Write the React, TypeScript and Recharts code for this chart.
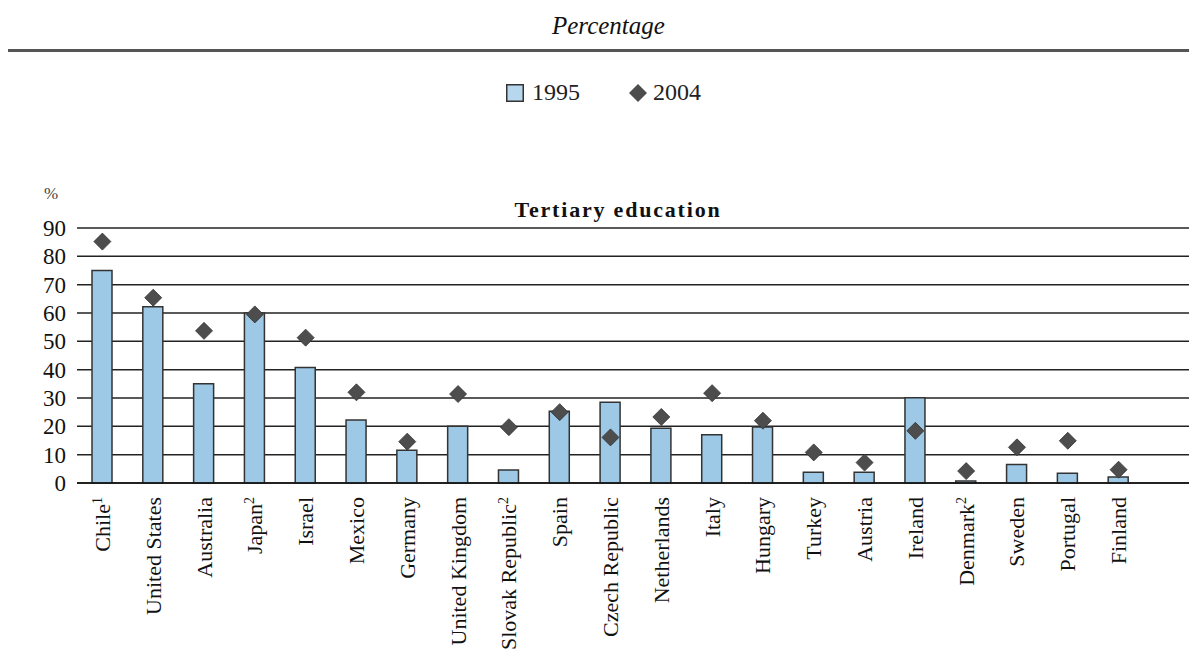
import React from "react";
import { Bar, CartesianGrid, ComposedChart, Line, XAxis, YAxis } from "recharts";

const countries = [
  "Chile", "United States", "Australia", "Japan", "Israel", "Mexico", "Germany",
  "United Kingdom", "Slovak Republic", "Spain", "Czech Republic", "Netherlands",
  "Italy", "Hungary", "Turkey", "Austria", "Ireland", "Denmark", "Sweden",
  "Portugal", "Finland",
];
const footnotes = ["1", "", "", "2", "", "", "", "", "2", "", "", "", "", "", "", "", "", "2", "", "", ""];
const y1995 = [75, 62.2, 35, 60, 40.8, 22.2, 11.6, 20, 4.6, 25.3, 28.5, 19.3, 17, 19.8, 3.8, 3.8, 30.1, 0.7, 6.5, 3.4, 2.1];
const y2004 = [85.2, 65.4, 53.7, 59.5, 51.3, 32, 14.6, 31.4, 19.7, 25, 16.1, 23.3, 31.7, 22, 10.8, 7.2, 18.4, 4.2, 12.6, 14.9, 4.7];
const yTicks = [0, 10, 20, 30, 40, 50, 60, 70, 80, 90];

const data = countries.map((name, i) => ({
  name,
  note: footnotes[i],
  y1995: y1995[i],
  y2004: y2004[i],
}));

const FONT = "'Liberation Serif', 'DejaVu Serif', serif";
const BAR_FILL = "#9dc9e6";
const DIAMOND = "#4d4d4d";

function CountryTick(props: any) {
  const { x, y, payload } = props;
  const note = data.find((d) => d.name === payload.value)?.note;
  return (
    <g transform={`translate(${x},${y + 6}) rotate(-90)`}>
      <text textAnchor="end" dy="0.34em" fontFamily={FONT} fontSize={22} fill="#111">
        {payload.value}
        {note ? (
          <tspan fontSize={14} dy={-8}>
            {note}
          </tspan>
        ) : null}
      </text>
    </g>
  );
}

function Diamond(props: any) {
  const { cx, cy } = props;
  if (cx == null || cy == null) return null;
  const r = 8.5;
  return (
    <polygon
      points={`${cx},${cy - r} ${cx + r},${cy} ${cx},${cy + r} ${cx - r},${cy}`}
      fill={DIAMOND}
      stroke="#333"
      strokeWidth={0.8}
    />
  );
}

export default function App() {
  return (
    <div
      style={{
        position: "absolute",
        left: 0,
        top: 0,
        width: 1189,
        height: 652,
        background: "#fff",
        fontFamily: FONT,
        overflow: "hidden",
      }}
    >
      <div
        style={{
          position: "absolute",
          top: 12,
          left: 552,
          fontStyle: "italic",
          fontSize: 25,
          color: "#111",
        }}
      >
        Percentage
      </div>
      <div style={{ position: "absolute", top: 49, left: 8, width: 1181, height: 3, background: "#555" }} />

      {/* legend */}
      <div
        style={{
          position: "absolute",
          top: 79,
          left: 506,
          display: "flex",
          alignItems: "center",
          fontSize: 24,
          color: "#222",
        }}
      >
        <svg width={18} height={18} style={{ marginRight: 8 }}>
          <rect x={0.75} y={0.75} width={16.5} height={16.5} fill="#b6d7ee" stroke="#333" strokeWidth={1.5} />
        </svg>
        <span>1995</span>
        <svg width={20} height={20} style={{ marginLeft: 48, marginRight: 5 }}>
          <polygon points="10,1 19,10 10,19 1,10" fill={DIAMOND} />
        </svg>
        <span>2004</span>
      </div>

      <div style={{ position: "absolute", top: 184, left: 44, fontSize: 17, color: "#444" }}>%</div>
      <div
        style={{
          position: "absolute",
          top: 197,
          left: 498,
          width: 240,
          textAlign: "center",
          fontWeight: "bold",
          fontSize: 22,
          letterSpacing: 1.8,
          color: "#111",
        }}
      >
        Tertiary education
      </div>

      <div style={{ position: "absolute", left: 0, top: 0 }}>
        <ComposedChart
          width={1189}
          height={652}
          data={data}
          barCategoryGap={0}
          margin={{ top: 228, right: 0, bottom: 0, left: 0 }}
        >
          <CartesianGrid vertical={false} stroke="#222" strokeWidth={1.5} />
          <XAxis
            dataKey="name"
            interval={0}
            height={169}
            padding={{ left: 0, right: 45 }}
            tickLine={false}
            axisLine={{ stroke: "#111", strokeWidth: 1.5 }}
            tick={<CountryTick />}
          />
          <YAxis
            domain={[0, 90]}
            ticks={yTicks}
            interval={0}
            width={77}
            axisLine={false}
            tickLine={false}
            tickSize={0}
            tickMargin={11}
            tick={{ fontFamily: FONT, fontSize: 23, fill: "#111" }}
          />
          <Bar
            dataKey="y1995"
            barSize={20}
            fill={BAR_FILL}
            stroke="#333"
            strokeWidth={1.5}
            isAnimationActive={false}
          />
          <Line
            dataKey="y2004"
            stroke="none"
            dot={<Diamond />}
            activeDot={false}
            isAnimationActive={false}
          />
        </ComposedChart>
      </div>
    </div>
  );
}
